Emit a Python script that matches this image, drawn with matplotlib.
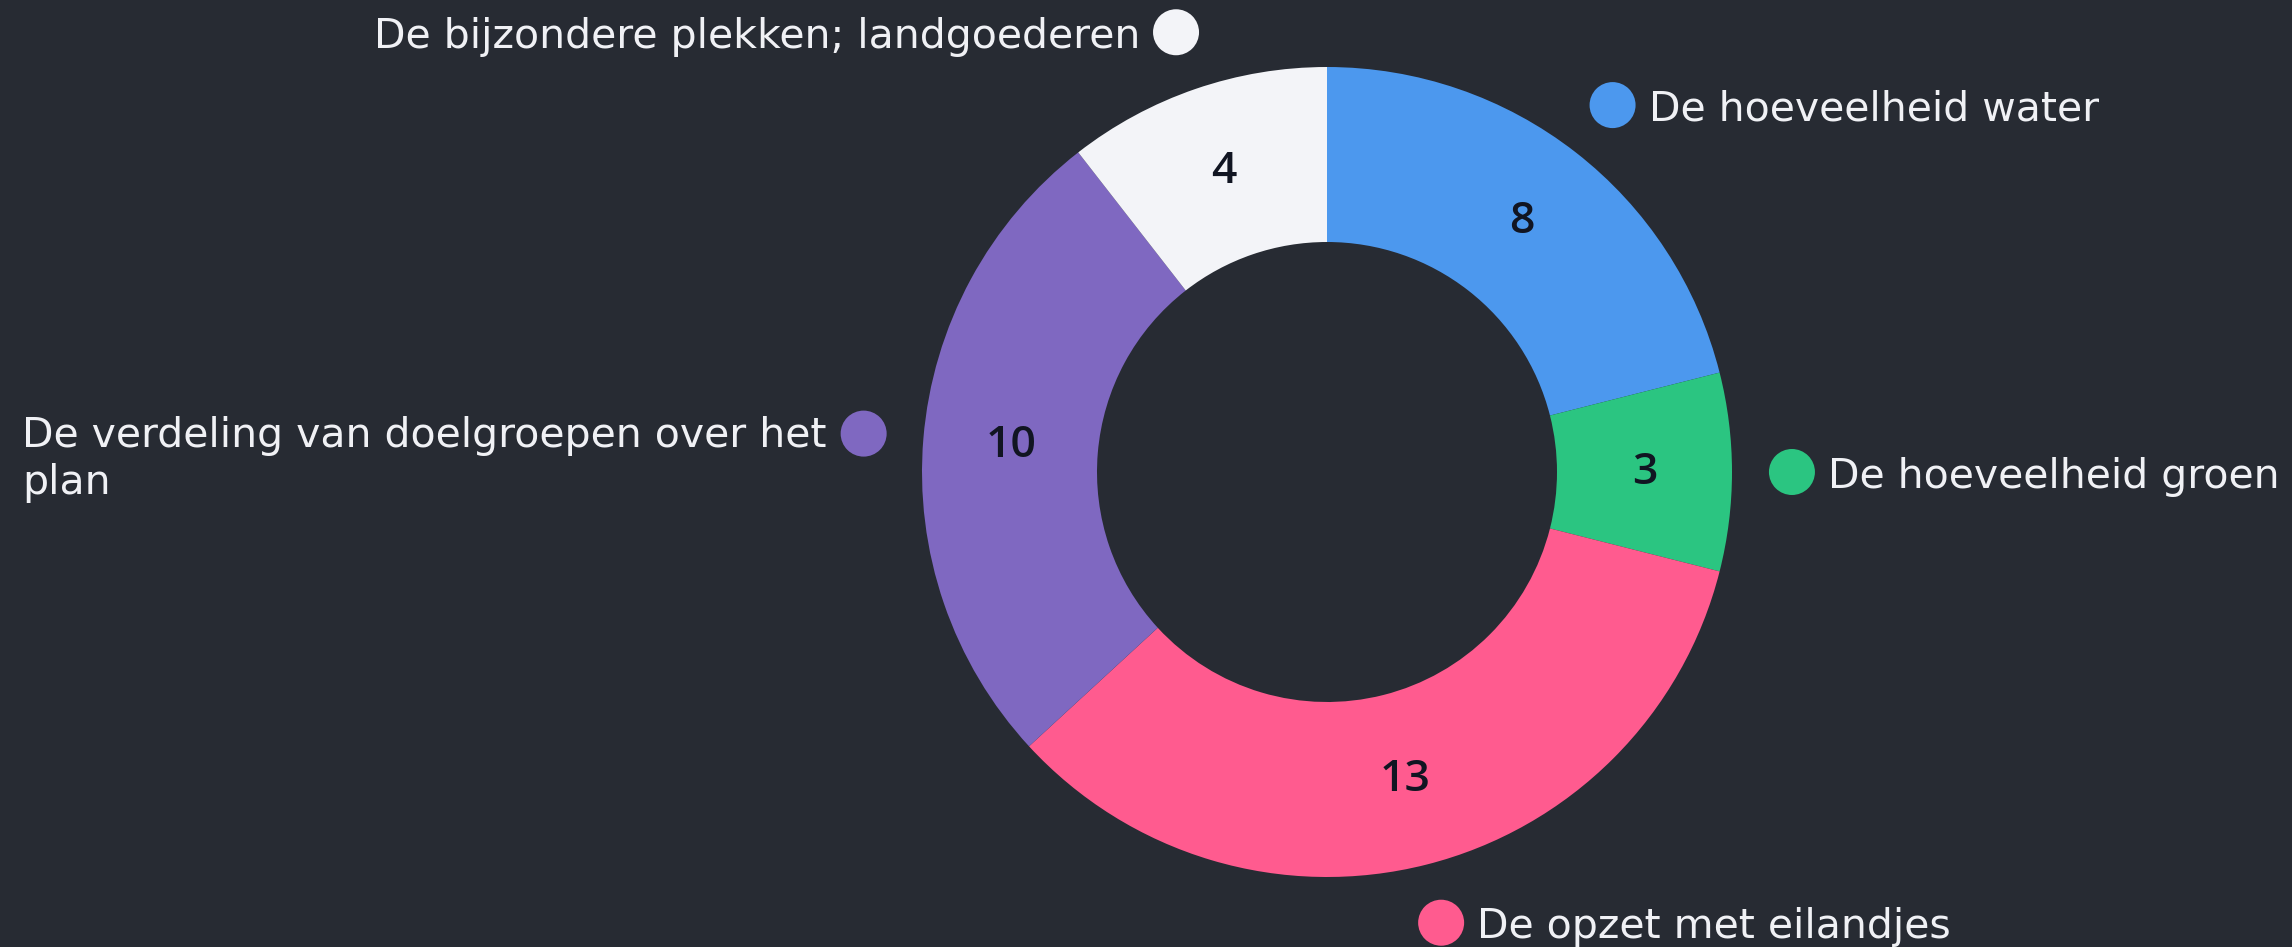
import matplotlib
matplotlib.use("Agg")
import matplotlib.pyplot as plt
import numpy as np

categories = ["De hoeveelheid water", "De hoeveelheid groen", "De opzet met eilandjes",
              "De verdeling van doelgroepen over het\nplan", "De bijzondere plekken; landgoederen"]
values = [8, 3, 13, 10, 4]
colors = ["#4c98ee", "#2bc581", "#ff5b8f", "#7f68c1", "#f3f4f8"]

BG = "#272b33"
W, H = 2292, 947
fig = plt.figure(figsize=(W / 100, H / 100), dpi=100, facecolor=BG)
ax = fig.add_axes([0, 0, 1, 1])
ax.set_facecolor(BG)

cx, cy = 1327, 475
R = 405
ring = 175
lab_font = "DejaVu Sans"
num_font = "Open Sans"
LFS = 29.5

wedges, _ = ax.pie(values, colors=colors, startangle=90, counterclock=False,
                   center=(cx, cy), radius=R, frame=True,
                   wedgeprops=dict(width=ring, linewidth=0))
ax.set_xlim(0, W)
ax.set_ylim(0, H)
ax.set_aspect("equal")
ax.axis("off")

for w, v, lab, col in zip(wedges, values, categories, colors):
    mid = np.deg2rad((w.theta1 + w.theta2) / 2)
    rm = R - ring / 2
    ax.text(cx + rm * np.cos(mid), cy + rm * np.sin(mid), str(v), ha="center", va="center",
            fontsize=32, color="#111522", family=num_font, fontweight="semibold")
    rd = R * 1.148
    dx, dy = cx + rd * np.cos(mid), cy + rd * np.sin(mid)
    ax.add_patch(plt.Circle((dx, dy), 23, color=col, lw=0))
    if np.cos(mid) >= 0:
        ax.text(dx + 36, dy, lab, ha="left", va="center_baseline", fontsize=LFS,
                color="#f0f1f5", family=lab_font)
    else:
        if "\n" in lab:
            ax.text(22, dy + 18, lab, ha="left", va="top", multialignment="left",
                    fontsize=LFS, color="#f0f1f5", family=lab_font, linespacing=1.25)
        else:
            ax.text(dx - 36, dy, lab, ha="right", va="center_baseline", fontsize=LFS,
                    color="#f0f1f5", family=lab_font)

fig.savefig("out.png", dpi=100, facecolor=BG)
